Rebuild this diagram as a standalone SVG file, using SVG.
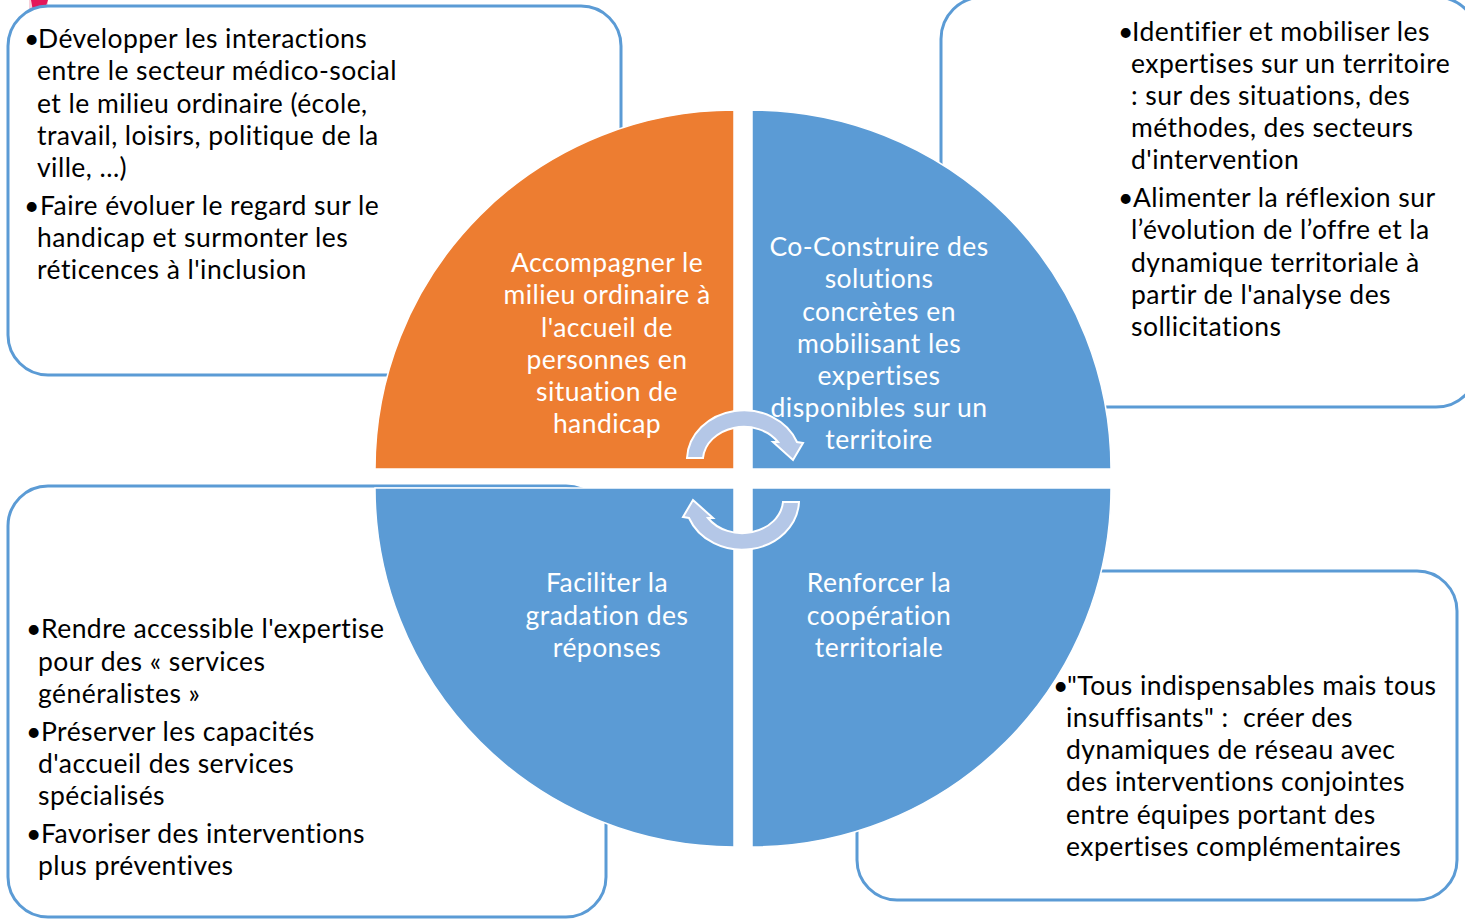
<svg xmlns="http://www.w3.org/2000/svg" width="1465" height="919" viewBox="0 0 1465 919">
<style>
.box{fill:#FFFFFF;stroke:#5B9BD5;stroke-width:3}
.q{stroke:#FFFFFF;stroke-width:1.5}
.blue{fill:#5B9BD5}
.orange{fill:#ED7D31}
.t{font-family:Lato,"Liberation Sans",sans-serif;font-size:26.5px;letter-spacing:0.45px;fill:#000000}
.w{font-family:Lato,"Liberation Sans",sans-serif;font-size:26.5px;letter-spacing:0.45px;fill:#FFFFFF;text-anchor:middle}
.arr{fill:#B4C7E7;stroke:#FFFFFF;stroke-width:2;stroke-linejoin:miter}
</style>
<rect width="1465" height="919" fill="#FFFFFF"/>
<g id="mark">
<rect x="29" y="0" width="19" height="16" fill="#F6D0DA"/>
<polygon points="31,0 48,0 46,6 33,11" fill="#E3175A"/>
</g>
<g id="box-tl">
<rect class="box" x="8" y="6" width="613" height="369" rx="40" ry="40"/>
</g>
<g id="box-tr">
<rect class="box" x="941" y="-3" width="537" height="410" rx="42" ry="42"/>
</g>
<g id="box-bl">
<rect class="box" x="8" y="486" width="598" height="431" rx="40" ry="40"/>
</g>
<g id="box-br">
<rect class="box" x="857" y="571" width="600" height="329" rx="40" ry="40"/>
</g>
<g id="quadrant-tl">
<path class="q orange" d="M734 469 L375 469 A359 359 0 0 1 734 110 Z"/>
<text class="w"><tspan x="607" y="272">Accompagner le</tspan><tspan x="607" y="304">milieu ordinaire à</tspan><tspan x="607" y="337">l'accueil de</tspan><tspan x="607" y="369">personnes en</tspan><tspan x="607" y="401">situation de</tspan><tspan x="607" y="433">handicap</tspan></text>
</g>
<g id="quadrant-tr">
<path class="q blue" d="M752 469 L752 110 A359 359 0 0 1 1111 469 Z"/>
<text class="w"><tspan x="879" y="256">Co-Construire des</tspan><tspan x="879" y="288">solutions</tspan><tspan x="879" y="321">concrètes en</tspan><tspan x="879" y="353">mobilisant les</tspan><tspan x="879" y="385">expertises</tspan><tspan x="879" y="417">disponibles sur un</tspan><tspan x="879" y="449">territoire</tspan></text>
</g>
<g id="quadrant-bl">
<path class="q blue" d="M734 488 L734 847 A359 359 0 0 1 375 488 Z"/>
<text class="w"><tspan x="607" y="592">Faciliter la</tspan><tspan x="607" y="625">gradation des</tspan><tspan x="607" y="657">réponses</tspan></text>
</g>
<g id="quadrant-br">
<path class="q blue" d="M752 488 L1111 488 A359 359 0 0 1 752 847 Z"/>
<text class="w"><tspan x="879" y="592">Renforcer la</tspan><tspan x="879" y="625">coopération</tspan><tspan x="879" y="657">territoriale</tspan></text>
</g>
<g id="connectors">
<path class="arr" d="M687 458 A57 50 0 0 1 797 442 L803 443 L793 460 L773 442 L778 442 A41 34 0 0 0 703 458 Z"/>
<path class="arr" transform="rotate(180 743 480)" d="M687 458 A57 50 0 0 1 797 442 L803 443 L793 460 L773 442 L778 442 A41 34 0 0 0 703 458 Z"/>
</g>
<g id="text-tl">
<text class="t" x="24" y="48">•</text>
<text class="t"><tspan x="38" y="48">Développer les interactions</tspan><tspan x="37" y="80">entre le secteur médico-social</tspan><tspan x="37" y="113">et le milieu ordinaire (école,</tspan><tspan x="37" y="145">travail, loisirs, politique de la</tspan><tspan x="37" y="177">ville, ...)</tspan></text>
<text class="t" x="24" y="215">•</text>
<text class="t"><tspan x="40" y="215">Faire évoluer le regard sur le</tspan><tspan x="37" y="247">handicap et surmonter les</tspan><tspan x="37" y="279">réticences à l'inclusion</tspan></text>
</g>
<g id="text-tr">
<text class="t" x="1118" y="41">•</text>
<text class="t"><tspan x="1132" y="41">Identifier et mobiliser les</tspan><tspan x="1131" y="73">expertises sur un territoire</tspan><tspan x="1131" y="105">: sur des situations, des</tspan><tspan x="1131" y="137">méthodes, des secteurs</tspan><tspan x="1131" y="169">d'intervention</tspan></text>
<text class="t" x="1118" y="207">•</text>
<text class="t"><tspan x="1133" y="207">Alimenter la réflexion sur</tspan><tspan x="1131" y="239">l’évolution de l’offre et la</tspan><tspan x="1131" y="272">dynamique territoriale à</tspan><tspan x="1131" y="304">partir de l'analyse des</tspan><tspan x="1131" y="336">sollicitations</tspan></text>
</g>
<g id="text-bl">
<text class="t" x="26" y="638">•</text>
<text class="t"><tspan x="41" y="638">Rendre accessible l'expertise</tspan><tspan x="38" y="671">pour des « services</tspan><tspan x="38" y="703">généralistes »</tspan></text>
<text class="t" x="26" y="741">•</text>
<text class="t"><tspan x="41" y="741">Préserver les capacités</tspan><tspan x="38" y="773">d'accueil des services</tspan><tspan x="38" y="805">spécialisés</tspan></text>
<text class="t" x="26" y="843">•</text>
<text class="t"><tspan x="41" y="843">Favoriser des interventions</tspan><tspan x="38" y="875">plus préventives</tspan></text>
</g>
<g id="text-br">
<text class="t" x="1053" y="695">•</text>
<text class="t" xml:space="preserve"><tspan x="1067" y="695">"Tous indispensables mais tous</tspan><tspan x="1066" y="727">insuffisants" :  créer des</tspan><tspan x="1066" y="759">dynamiques de réseau avec</tspan><tspan x="1066" y="791">des interventions conjointes</tspan><tspan x="1066" y="824">entre équipes portant des</tspan><tspan x="1066" y="856">expertises complémentaires</tspan></text>
</g>
</svg>
